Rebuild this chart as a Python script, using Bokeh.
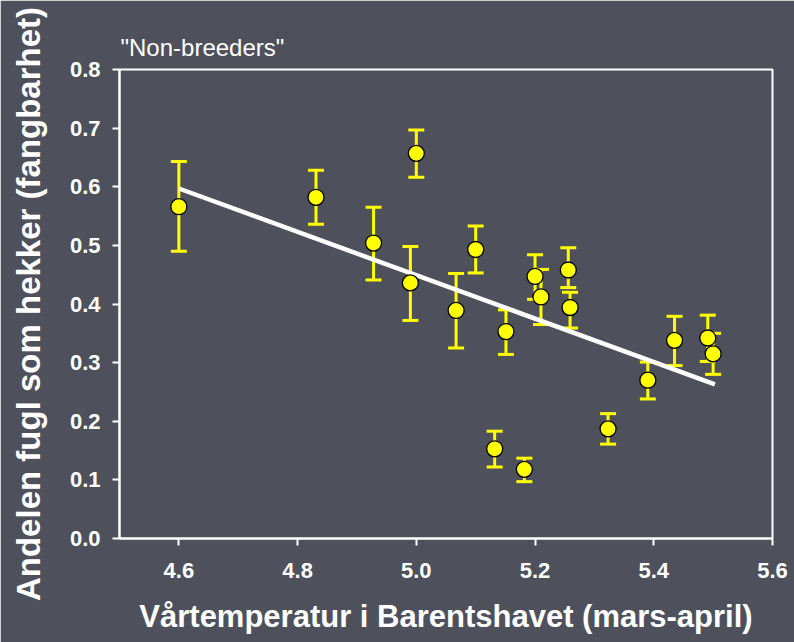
from bokeh.plotting import figure
from bokeh.models import ColumnDataSource, Whisker, TeeHead, FixedTicker, Range1d
from bokeh.embed import file_html
from bokeh.resources import INLINE

# ---- data ----
temp = [4.60, 4.831, 4.928, 5.000, 4.990, 5.100, 5.067, 5.151, 5.200, 5.210,
        5.256, 5.259, 5.390, 5.435, 5.491, 5.500, 5.323, 5.132, 5.182]
andel = [0.566, 0.582, 0.504, 0.657, 0.436, 0.493, 0.389, 0.353, 0.447, 0.412,
         0.458, 0.394, 0.270, 0.338, 0.342, 0.315, 0.187, 0.153, 0.118]
upper = [0.643, 0.628, 0.565, 0.697, 0.498, 0.533, 0.452, 0.390, 0.484, 0.459,
         0.496, 0.420, 0.301, 0.379, 0.381, 0.350, 0.213, 0.183, 0.137]
lower = [0.490, 0.536, 0.441, 0.616, 0.372, 0.453, 0.325, 0.314, 0.408, 0.365,
         0.428, 0.359, 0.238, 0.295, 0.302, 0.280, 0.161, 0.122, 0.097]

fit_x = [4.60, 5.503]
fit_y = [0.597, 0.263]

x_ticks = [4.6, 4.8, 5.0, 5.2, 5.4, 5.6]
x_tick_labels = ["4.6", "4.8", "5.0", "5.2", "5.4", "5.6"]
y_ticks = [0.0, 0.1, 0.2, 0.3, 0.4, 0.5, 0.6, 0.7, 0.8]
y_tick_labels = ["0.0", "0.1", "0.2", "0.3", "0.4", "0.5", "0.6", "0.7", "0.8"]

title_text = '"Non-breeders"'
x_title = "Vårtemperatur i Barentshavet (mars-april)"
y_title = "Andelen fugl som hekker (fangbarhet)"

BG = "#4e515b"
YEL = "#ffff00"
FONT = "Liberation Sans"

p = figure(width=794, height=642,
           x_range=Range1d(4.5, 5.6), y_range=Range1d(0.0, 0.8),
           output_backend="svg", toolbar_location=None,
           background_fill_color=BG, border_fill_color=BG,
           min_border_left=119, min_border_right=22,
           min_border_top=69, min_border_bottom=104,
           title=title_text)

p.title.text_color = "white"
p.title.text_font = FONT
p.title.text_font_size = "24px"
p.title.text_font_style = "normal"
p.title.align = "left"
p.title.offset = 1
p.title.standoff = 17

p.outline_line_color = "white"
p.outline_line_width = 2
p.xgrid.visible = False
p.ygrid.visible = False

for ax in (p.xaxis[0], p.yaxis[0]):
    ax.axis_line_color = "white"
    ax.axis_line_width = 2
    ax.major_tick_line_color = "white"
    ax.major_tick_line_width = 2
    ax.major_tick_in = 0
    ax.major_tick_out = 7
    ax.minor_tick_line_color = None
    ax.major_label_text_color = "white"
    ax.major_label_text_font = FONT
    ax.major_label_text_font_style = "bold"
    ax.major_label_text_font_size = "22px"
    ax.axis_label_text_color = "white"
    ax.axis_label_text_font = FONT
    ax.axis_label_text_font_style = "bold"

p.xaxis.ticker = FixedTicker(ticks=x_ticks)
p.xaxis.major_label_overrides = dict(zip(x_ticks, x_tick_labels))
p.yaxis.ticker = FixedTicker(ticks=y_ticks)
p.yaxis.major_label_overrides = dict(zip(y_ticks, y_tick_labels))

p.xaxis.axis_label = x_title
p.xaxis.axis_label_text_font_size = "31px"
p.xaxis.major_label_standoff = 17
p.xaxis.axis_label_standoff = 18

p.yaxis.axis_label = y_title
p.yaxis.axis_label_text_font_size = "33px"
p.yaxis.major_label_standoff = 12
p.yaxis.axis_label_standoff = 20

src = ColumnDataSource(dict(temp=temp, andel=andel, upper=upper, lower=lower))

p.line(fit_x, fit_y, line_color="white", line_width=4.5)

w = Whisker(source=src, base="temp", upper="upper", lower="lower",
            dimension="height", line_color=YEL, line_width=3, level="underlay",
            upper_head=TeeHead(size=16, line_color=YEL, line_width=3),
            lower_head=TeeHead(size=16, line_color=YEL, line_width=3))
p.add_layout(w)

p.scatter("temp", "andel", source=src, size=16, fill_color=YEL,
          line_color="black", line_width=1.3)

open("out.html", "w").write(file_html(p, INLINE))
